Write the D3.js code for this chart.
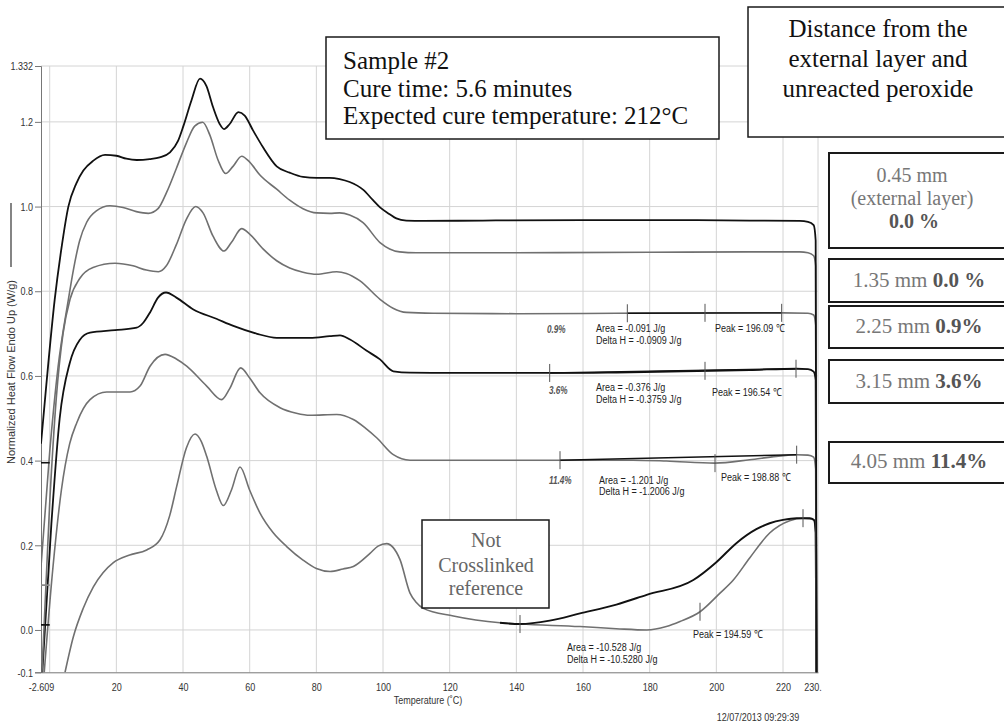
<!DOCTYPE html>
<html><head><meta charset="utf-8">
<script src="https://cdn.jsdelivr.net/npm/d3@7"></script>
<style>body{margin:0;background:#fff}svg{display:block}</style>
</head><body>
<svg id="chart" width="1004" height="724"></svg>
<script>
// ---------- data ----------
const xTickValues = [-2.609, 20, 40, 60, 80, 100, 120, 140, 160, 180, 200, 220];
const xTickLabels = ["-2.609", "20", "40", "60", "80", "100", "120", "140", "160", "180", "200", "220"];
const xGridValues = [0, 20, 40, 60, 80, 100, 120, 140, 160, 180, 200, 220];
const xEndLabel = "230.";
const yTickValues = [-0.1, 0.0, 0.2, 0.4, 0.6, 0.8, 1.0, 1.2, 1.332];
const yTickLabels = ["-0.1", "0.0", "0.2", "0.4", "0.6", "0.8", "1.0", "1.2", "1.332"];
const yGridValues = [0.0, 0.2, 0.4, 0.6, 0.8, 1.0, 1.2, 1.332];

// curve 1: 0.45 mm (external layer), black
const curve045 = [[-2.609,0.44],[-1,0.58],[1.5,0.78],[3.5,0.90],[5.6,1.0],[8,1.055],[10.1,1.085],[13,1.108],[16.6,1.122],[20,1.12],[23,1.113],[26.1,1.110],[30,1.112],[33,1.116],[36.1,1.128],[38.5,1.155],[40.1,1.19],[42.5,1.25],[45.1,1.302],[47,1.285],[49,1.235],[51,1.195],[52.3,1.183],[54,1.195],[56.6,1.223],[58.5,1.215],[61,1.18],[64,1.14],[68.1,1.095],[72,1.08],[76,1.07],[80.1,1.068],[84,1.068],[87,1.065],[90,1.058],[94,1.04],[97,1.015],[99.1,0.998],[102,0.982],[104,0.972],[107,0.967],[112,0.966],[130,0.967],[160,0.968],[190,0.968],[210,0.967],[225,0.966],[227.5,0.964],[229.2,0.956],[229.8,0.92],[230.1,-0.2]];
// curve 2: 1.35 mm, gray
const curve135 = [[-2.609,0.15],[0,0.42],[2.5,0.62],[5.6,0.78],[7.1,0.85],[9,0.92],[11.1,0.963],[14,0.99],[18.1,1.002],[22,0.998],[26,0.988],[29.6,0.984],[32.5,0.995],[35.1,1.034],[38,1.09],[41,1.15],[43.5,1.19],[45.9,1.199],[48,1.17],[50.5,1.11],[52.8,1.078],[55,1.095],[57.6,1.119],[60,1.105],[63,1.075],[68.1,1.041],[72,1.015],[76,0.995],[80.1,0.985],[84,0.984],[87,0.985],[90,0.98],[94,0.962],[99.1,0.915],[102,0.9],[105,0.893],[110,0.891],[140,0.891],[180,0.892],[210,0.893],[225,0.893],[227.5,0.891],[229.2,0.884],[229.8,0.86],[230.1,-0.2]];
// curve 3: 2.25 mm, gray
const curve225 = [[-2.609,-0.15],[0,0.3],[2,0.55],[4,0.70],[6.1,0.781],[9,0.83],[13,0.856],[19.6,0.866],[25,0.86],[29,0.85],[32.6,0.846],[35,0.86],[38,0.91],[41,0.97],[43.8,1.0],[46,0.985],[49,0.93],[52.3,0.895],[54.5,0.915],[57.6,0.948],[60,0.935],[64,0.9],[68.1,0.872],[72,0.855],[76,0.845],[80.1,0.840],[86.1,0.846],[89,0.842],[93,0.825],[99.1,0.781],[103,0.76],[107,0.75],[115,0.748],[140,0.747],[170,0.748],[200,0.749],[220,0.749],[227.5,0.748],[229.2,0.744],[229.8,0.72],[230.1,-0.2]];
// curve 4: 3.15 mm, black
const curve315 = [[-2.609,-0.15],[0.5,0.25],[3,0.5],[6,0.63],[9,0.685],[12.1,0.702],[19.6,0.708],[26.1,0.714],[28,0.725],[30.1,0.75],[32.5,0.785],[34.9,0.797],[38,0.785],[43.1,0.757],[50,0.735],[55.1,0.718],[62,0.70],[68.1,0.690],[78.1,0.690],[84,0.694],[87.1,0.696],[90.1,0.686],[95,0.66],[99.1,0.639],[103.1,0.611],[108.1,0.6076],[130,0.607],[150,0.607],[160,0.607],[170,0.608],[190,0.611],[210,0.614],[224,0.617],[227.5,0.616],[229.2,0.61],[229.8,0.59],[230.1,-0.2]];
// curve 5: 4.05 mm, gray
const curve405 = [[-2.609,-0.2],[1,0.15],[3.5,0.33],[6,0.44],[8.1,0.489],[12.1,0.544],[17.1,0.562],[24.1,0.562],[27.1,0.576],[30.1,0.623],[34.6,0.651],[38,0.64],[41.1,0.623],[47.1,0.576],[51.6,0.544],[54,0.57],[57.3,0.619],[60,0.595],[63.1,0.560],[69.1,0.525],[74,0.512],[78.1,0.507],[86.1,0.509],[91.1,0.497],[95,0.475],[98.1,0.454],[103.1,0.414],[108.1,0.401],[135,0.401],[153,0.401],[175,0.401],[185,0.399],[199.6,0.394],[210,0.402],[218,0.41],[224,0.414],[227.5,0.413],[229.2,0.408],[229.8,0.38],[230.1,-0.2]];
// curve 6: not crosslinked reference, gray
const curveRef = [[4.6,-0.1],[7.1,-0.016],[10,0.05],[13.1,0.102],[16,0.135],[19.1,0.159],[24,0.177],[29.1,0.189],[33.1,0.213],[36,0.27],[38.1,0.339],[41,0.43],[43.6,0.463],[45.5,0.445],[47.1,0.410],[50,0.33],[52.1,0.294],[54.5,0.33],[57.1,0.385],[60,0.33],[63.1,0.276],[67,0.23],[71.1,0.197],[76,0.165],[80,0.145],[84.1,0.138],[88,0.144],[91.1,0.150],[96.1,0.181],[98.5,0.198],[101.1,0.204],[103,0.195],[105.1,0.166],[108.1,0.087],[110,0.065],[112.1,0.051],[121.1,0.033],[135.1,0.017],[141.1,0.014],[159.1,0.008],[170,0.003],[179.1,0.0],[185,0.008],[189.1,0.020],[195.1,0.043],[201.1,0.087],[205.1,0.118],[210,0.17],[216,0.229],[222,0.258],[226,0.264],[228,0.263],[229.3,0.26],[229.8,0.23],[230.1,-0.2]];
// integration baselines (black)
const baseRef = [[135.1,0.017],[141.1,0.014],[150,0.022],[159.1,0.039],[170,0.06],[179.1,0.083],[193.1,0.118],[200,0.16],[206,0.205],[212,0.238],[216,0.252],[220,0.26],[224.1,0.264],[228,0.264],[229.3,0.26],[229.8,0.23],[230.1,-0.2]];
const base405 = [[153.1,0.401],[224.1,0.414]];
const base315 = [[150,0.607],[223.9,0.617]];
const base225 = [[173.3,0.748],[219.6,0.749]];
// limit / peak markers
const marks225 = [[173.3,0.748],[196.6,0.749],[219.6,0.749]];
const marks315 = [[150,0.607],[196.6,0.612],[223.9,0.617]];
const marks405 = [[153.1,0.401],[199.6,0.394],[224.1,0.414]];
const marksRef = [[141.1,0.014],[195.1,0.043],[226,0.264]];
// short start markers at the left edge
const startMarks = [[-2.609, 0.0, 0.395, "#111"], [-2.609, 0.0, 0.106, "#888"], [-2.609, 0.0, 0.012, "#111"]];

const pctLabels = ["0.9%", "3.6%", "11.4%"];
const areaLabels = ["Area = -0.091 J/g", "Area = -0.376 J/g", "Area = -1.201 J/g", "Area = -10.528 J/g"];
const deltaLabels = ["Delta H = -0.0909 J/g", "Delta H = -0.3759 J/g", "Delta H = -1.2006 J/g", "Delta H = -10.5280 J/g"];
const peakLabels = ["Peak = 196.09 \u2103", "Peak = 196.54 \u2103", "Peak = 198.88 \u2103", "Peak = 194.59 \u2103"];

// ---------- drawing ----------
const svg = d3.select("#chart");
const W = 1004, H = 724;
const L = 41, R = 818, T = 66, B = 672.3;
const x = d3.scaleLinear().domain([-2.609, 230.5]).range([L, R]);
const y = d3.scaleLinear().domain([-0.1, 1.332]).range([B, T]);
const SANS = "'Liberation Sans', Arial, sans-serif";
const SERIF = "'Liberation Serif', 'Times New Roman', serif";
const NARROW = 0.82;

svg.append("rect").attr("width", W).attr("height", H).attr("fill", "#fff");

// grid
const grid = svg.append("g").attr("stroke", "#d4d4d4").attr("stroke-width", 1);
grid.selectAll("line.v").data(xGridValues).join("line")
  .attr("x1", d => x(d)).attr("x2", d => x(d)).attr("y1", T).attr("y2", B);
grid.append("line").attr("x1", R).attr("x2", R).attr("y1", T).attr("y2", B);
grid.selectAll("line.h").data(yGridValues).join("line")
  .attr("x1", L).attr("x2", R).attr("y1", d => y(d)).attr("y2", d => y(d));

// axes
const yAxis = d3.axisLeft(y).tickValues(yTickValues).tickSize(6).tickFormat((d, i) => yTickLabels[i]);
const gy = svg.append("g").attr("transform", `translate(${L},0)`).call(yAxis);
gy.select(".domain").attr("stroke", "#777");
gy.selectAll(".tick line").attr("stroke", "#777");
gy.selectAll(".tick text").attr("x", 0).attr("dy", "0.34em")
  .attr("transform", `translate(-8,0) scale(${NARROW},1)`)
  .attr("font-family", SANS).attr("font-size", 11).attr("fill", "#333");

const xAxis = d3.axisBottom(x).tickValues(xTickValues).tickSize(0).tickFormat((d, i) => xTickLabels[i]);
const gx = svg.append("g").attr("transform", `translate(0,${B})`).call(xAxis);
gx.select(".domain").attr("stroke", "#777");
gx.selectAll(".tick text").attr("y", 0).attr("dy", "0.71em")
  .attr("transform", `translate(0,11) scale(${NARROW},1)`)
  .attr("font-family", SANS).attr("font-size", 11).attr("fill", "#333");
gx.append("text").text(xEndLabel).attr("text-anchor", "middle").attr("dy", "0.71em")
  .attr("transform", `translate(${x(230.5) - 5},11) scale(${NARROW},1)`)
  .attr("font-family", SANS).attr("font-size", 11).attr("fill", "#333");

function ntext(g, str, px, py, opts = {}) {
  const t = g.append("text").text(str)
    .attr("transform", `translate(${px},${py}) scale(${NARROW},1)`)
    .attr("font-family", SANS).attr("font-size", opts.size || 11)
    .attr("fill", opts.fill || "#222")
    .attr("text-anchor", opts.anchor || "start");
  if (opts.italic) t.attr("font-style", "italic");
  if (opts.bold) t.attr("font-weight", "bold");
  return t;
}

// axis titles
ntext(svg, "Temperature (\u02daC)", 428, 704, { anchor: "middle", fill: "#333" });
ntext(svg, "12/07/2013 09:29:39", 758, 721, { anchor: "middle", fill: "#333" });
svg.append("text").text("Normalized Heat Flow Endo Up (W/g)")
  .attr("transform", "translate(15,464) rotate(-90)")
  .attr("font-family", SANS).attr("font-size", 11).attr("fill", "#333");
svg.append("line").attr("x1", 11).attr("x2", 11).attr("y1", 267).attr("y2", 203)
  .attr("stroke", "#333").attr("stroke-width", 1.2);

// clip
svg.append("clipPath").attr("id", "plot").append("rect")
  .attr("x", L).attr("y", T - 2).attr("width", R - L + 2).attr("height", B - T + 2);
const plot = svg.append("g").attr("clip-path", "url(#plot)");
const line = d3.line().x(d => x(d[0])).y(d => y(d[1])).curve(d3.curveMonotoneX);
const straight = d3.line().x(d => x(d[0])).y(d => y(d[1]));

const GRAY = "#707070", BLACK = "#111";
[[curveRef, GRAY, 1.6], [baseRef, BLACK, 1.9], [curve405, GRAY, 1.6], [curve315, BLACK, 1.8],
 [curve225, GRAY, 1.6], [curve135, GRAY, 1.6], [curve045, BLACK, 1.8]].forEach(([data, col, w]) => {
  plot.append("path").datum(data).attr("d", line).attr("fill", "none")
    .attr("stroke", col).attr("stroke-width", w).attr("stroke-linejoin", "round");
});
[base405, base315, base225].forEach(data => {
  plot.append("path").datum(data).attr("d", straight).attr("fill", "none")
    .attr("stroke", BLACK).attr("stroke-width", 1.4);
});
[marks225, marks315, marks405, marksRef].forEach(ms => {
  plot.selectAll(null).data(ms).join("line")
    .attr("x1", d => x(d[0])).attr("x2", d => x(d[0]))
    .attr("y1", d => y(d[1]) - 9).attr("y2", d => y(d[1]) + 9)
    .attr("stroke", "#555").attr("stroke-width", 1);
});
plot.selectAll(null).data(startMarks).join("line")
  .attr("x1", d => x(d[0])).attr("x2", d => x(d[1]))
  .attr("y1", d => y(d[2])).attr("y2", d => y(d[2]))
  .attr("stroke", d => d[3]).attr("stroke-width", 1.6);

// annotations
const ann = svg.append("g");
ntext(ann, pctLabels[0], 547, 333, { italic: true, bold: true, fill: "#555", size: 10 });
ntext(ann, areaLabels[0], 596, 332);
ntext(ann, deltaLabels[0], 596, 344);
ntext(ann, peakLabels[0], 715, 332);
ntext(ann, pctLabels[1], 549, 394, { italic: true, bold: true, fill: "#555", size: 10 });
ntext(ann, areaLabels[1], 596, 391);
ntext(ann, deltaLabels[1], 596, 403);
ntext(ann, peakLabels[1], 712, 396);
ntext(ann, pctLabels[2], 549, 484, { italic: true, bold: true, fill: "#555", size: 10 });
ntext(ann, areaLabels[2], 599, 484);
ntext(ann, deltaLabels[2], 599, 495);
ntext(ann, peakLabels[2], 721, 481);
ntext(ann, peakLabels[3], 693, 638);
ntext(ann, areaLabels[3], 567, 651);
ntext(ann, deltaLabels[3], 567, 663);

// text boxes
function box(x0, y0, w, h, sw) {
  svg.append("rect").attr("x", x0).attr("y", y0).attr("width", w).attr("height", h)
    .attr("fill", "#fff").attr("stroke", "#1a1a1a").attr("stroke-width", sw);
}
function stext(str, px, py, size, fill, anchor) {
  return svg.append("text").attr("x", px).attr("y", py).attr("font-family", SERIF)
    .attr("font-size", size).attr("fill", fill).attr("text-anchor", anchor || "middle").text(str);
}
box(326, 37, 393, 102, 1.5);
stext("Sample #2", 343, 69, 25, "#111", "start");
stext("Cure time: 5.6 minutes", 343, 97, 25, "#111", "start");
stext("Expected cure temperature: 212\u00b0C", 343, 124, 25, "#111", "start");

box(748, 7, 270, 130, 1.5);
stext("Distance from the", 878, 37, 25, "#111");
stext("external layer and", 878, 67, 25, "#111");
stext("unreacted peroxide", 878, 97, 25, "#111");

const sideBoxes = [[153, 95], [259, 43], [306, 42], [360, 43], [442, 41]];
sideBoxes.forEach(([y0, h]) => box(829, y0, 190, h, 2));
stext("0.45 mm", 912, 182, 20, "#777");
stext("(external layer)", 912, 205, 20, "#777");
stext("0.0 %", 914, 228, 20, "#555").attr("font-weight", "bold");
const sideMain = ["1.35 mm ", "2.25 mm ", "3.15 mm ", "4.05 mm "];
const sideBold = ["0.0 %", "0.9%", "3.6%", "11.4%"];
const sideBase = [287, 333, 388, 468];
sideMain.forEach((s, i) => {
  const t = stext("", 919, sideBase[i], 21, "#777");
  t.append("tspan").text(s);
  t.append("tspan").text(sideBold[i]).attr("font-weight", "bold").attr("fill", "#555");
});

box(422, 520, 127, 88, 1.5);
stext("Not", 486, 547, 20, "#666");
stext("Crosslinked", 486, 572, 20, "#666");
stext("reference", 486, 595, 20, "#666");
</script>
</body></html>
